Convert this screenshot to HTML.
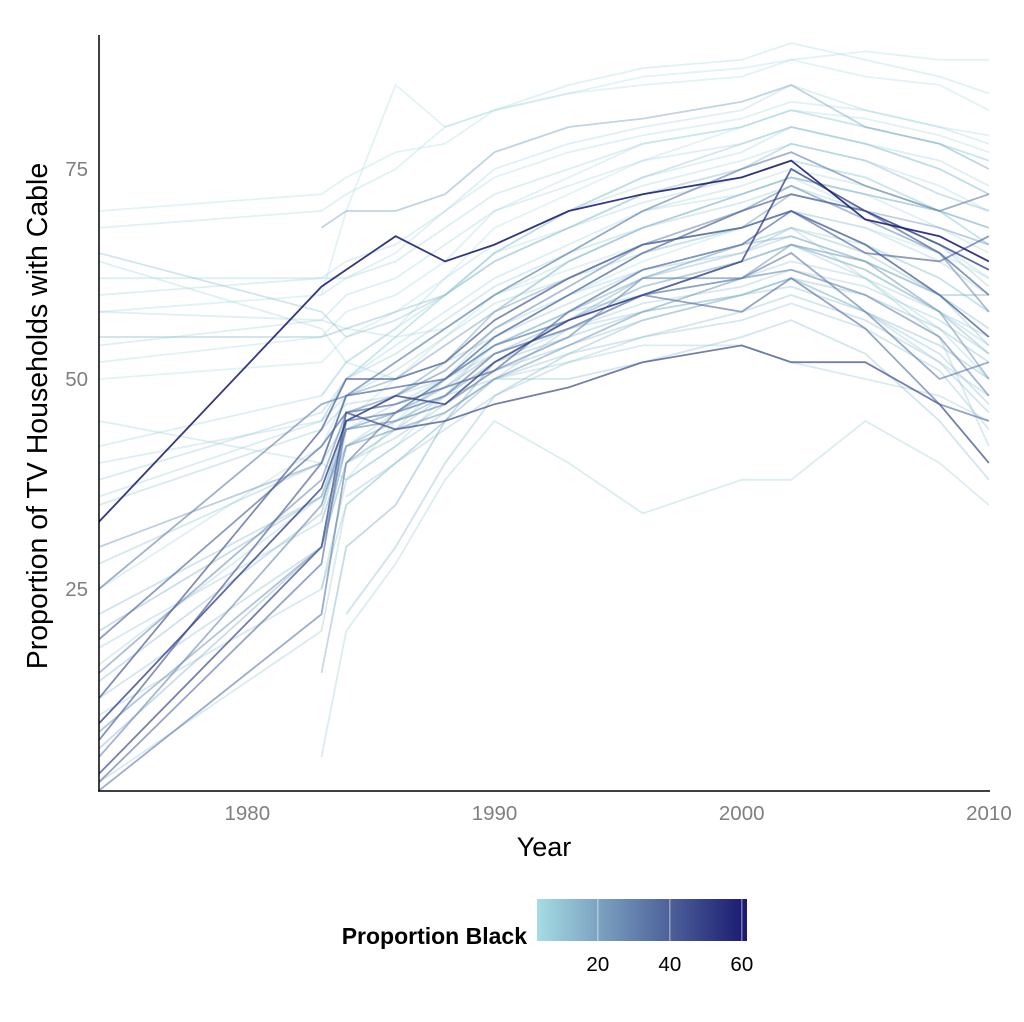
<!DOCTYPE html>
<html><head><meta charset="utf-8"><style>
body{margin:0;background:#fff;font-family:"Liberation Sans",Arial,sans-serif;}
svg{display:block}
</style></head><body>
<svg id="chart" width="1024" height="1022">
<defs><linearGradient id="grad" x1="0" x2="1"><stop offset="0" stop-color="#a5dce2"/><stop offset="1" stop-color="#191970"/></linearGradient></defs>
<g id="lines"></g>
<line x1="99" y1="35" x2="99" y2="791" stroke="#000" stroke-width="1.5"/>
<line x1="98" y1="791" x2="990" y2="791" stroke="#000" stroke-width="1.5"/>
<g id="xticks"></g>
<g id="yticks"></g>
<text x="544" y="856" font-size="27" text-anchor="middle" fill="#000">Year</text>
<text transform="translate(47,416) rotate(-90)" font-size="28.5" text-anchor="middle" fill="#000">Proportion of TV Households with Cable</text>
<g>
<text x="527" y="944" font-size="23" font-weight="bold" text-anchor="end">Proportion Black</text>
<rect x="537" y="899" width="210" height="42" fill="url(#grad)"/>
<g id="legticks"></g>
</g>
</svg>
<script>
const years=[1974,1983,1984,1986,1988,1990,1993,1996,2000,2002,2005,2008,2010];
const propBlack=[5,6,4,7,5,8,6,4,9,7,5,6,8,5,7,10,12,6,20,15,22,18,12,10,25,14,16,
4,5,6,7,8,9,10,11,12,13,5,6,7,8,9,10,11,12,14,16,
60,50,45,40,35,42,38,30,32,28,33];
const seriesValues=[
[68,70,72,75,80,82,85,87,88,90,88,86,84],
[60,62,64,66,70,75,78,80,82,85,82,80,78],
[50,52,55,58,62,68,72,76,80,82,80,78,76],
[40,45,50,55,60,65,70,74,77,80,78,76,73],
[null,null,38,45,50,55,60,64,68,70,68,65,62],
[null,5,20,28,38,45,40,34,38,38,45,40,35],
[58,57,56,55,56,60,65,70,72,74,72,70,68],
[null,60,70,85,80,82,84,86,87,88,86,85,82],
[2,20,35,40,45,50,52,54,54,52,50,48,45],
[45,40,38,42,48,55,60,65,68,70,66,60,55],
[null,35,45,50,55,60,63,66,68,70,66,62,58],
[25,42,48,52,56,60,64,68,72,74,72,68,65],
[16,36,44,46,49,54,58,62,66,68,62,56,50],
[null,null,50,55,60,65,68,72,74,76,74,70,68],
[62,62,62,64,68,72,75,78,80,82,80,78,76],
[35,44,47,48,50,54,58,60,64,66,62,55,42],
[null,null,40,44,48,50,50,52,55,57,53,45,38],
[64,56,52,50,52,58,64,68,72,74,70,66,62],
[null,68,70,70,72,77,80,81,83,85,80,78,75],
[55,55,56,58,60,64,68,72,75,78,76,72,70],
[30,40,48,50,54,58,62,66,68,72,70,68,66],
[null,15,30,35,45,52,57,62,66,67,64,60,60],
[65,58,55,57,60,65,70,74,78,80,78,75,72],
[10,25,35,40,45,50,56,60,62,64,62,58,55],
[8,30,42,44,46,50,54,58,62,66,64,58,50],
[null,null,22,30,40,48,53,57,60,62,58,54,50],
[20,36,45,48,52,58,64,68,72,74,72,70,68],
[70,72,74,77,78,82,84,85,86,88,89,88,88],
[52,55,58,60,64,70,74,78,80,82,81,79,77],
[null,48,52,56,62,66,70,73,76,78,76,73,70],
[42,48,52,56,60,64,68,71,74,76,74,70,66],
[null,30,40,44,50,56,60,63,66,68,66,62,58],
[38,46,50,53,57,61,65,68,71,73,70,66,61],
[null,null,44,47,50,53,56,58,60,62,58,52,48],
[28,40,45,48,52,55,59,63,65,67,64,60,54],
[null,25,38,42,46,50,53,55,58,60,57,52,46],
[22,36,42,45,48,52,55,58,60,62,60,56,52],
[58,60,62,65,70,74,77,79,81,83,82,80,79],
[54,57,60,62,66,70,73,76,78,80,78,75,72],
[null,45,50,54,58,62,66,70,73,75,73,70,66],
[36,45,48,51,55,59,62,65,68,70,68,64,60],
[null,33,42,46,50,54,57,61,64,66,63,58,54],
[18,33,42,45,48,52,56,59,61,63,61,57,53],
[null,null,36,40,44,48,52,55,57,59,56,51,44],
[12,30,40,43,47,51,54,57,60,61,58,53,47],
[14,34,44,46,50,54,58,62,65,68,65,60,56],
[6,30,44,46,49,53,57,61,64,66,63,58,53],
[33,61,63,67,64,66,70,72,74,76,69,67,64],
[9,37,45,48,47,52,57,60,64,75,70,66,63],
[3,30,46,44,45,47,49,52,54,52,52,47,40],
[7,40,48,49,50,55,60,65,70,72,70,65,60],
[2,28,45,46,48,53,56,60,58,62,56,47,45],
[12,44,50,50,52,57,62,66,68,70,66,60,55],
[19,42,46,47,49,51,58,63,66,70,65,64,67],
[5,35,44,45,47,51,55,62,62,63,60,55,48],
[25,47,48,52,56,60,65,70,75,77,73,70,72],
[15,38,46,48,51,56,61,66,70,73,69,65,58],
[1,22,40,46,50,54,57,60,62,65,58,50,52]];
const xTicks=[1980,1990,2000,2010];
const yTicks=[25,50,75];
const legTicks=[20,40,60];
const NS="http://www.w3.org/2000/svg";
const xs=y=>99+(y-1974)*24.72;
const ys=v=>379-(v-50)*8.4;
const ls=v=>537+(v-3.1)*3.6;
function col(b){const t=Math.max(0,Math.min(1,(b-3.1)/58.3));
const a=[165,220,226],c=[25,25,112];
return `rgb(${a.map((v,i)=>Math.round(v+(c[i]-v)*t)).join(',')})`;}
const order=propBlack.map((b,i)=>i).sort((a,b)=>propBlack[a]-propBlack[b]);
const g=document.getElementById('lines');
order.forEach(i=>{
  let d='';seriesValues[i].forEach((v,j)=>{if(v==null)return;d+=(d?'L':'M')+xs(years[j]).toFixed(1)+','+ys(v).toFixed(1);});
  const p=document.createElementNS(NS,'path');
  p.setAttribute('d',d);p.setAttribute('fill','none');
  const t=(propBlack[i]-3.1)/58.3;
  p.setAttribute('stroke',col(propBlack[i]));p.setAttribute('stroke-width','1.8');
  p.setAttribute('stroke-opacity',(0.3+0.6*t).toFixed(2));
  
  
  g.appendChild(p);
});
const xg=document.getElementById('xticks');
xTicks.forEach(v=>{const t=document.createElementNS(NS,'text');
t.setAttribute('x',xs(v));t.setAttribute('y',820);t.setAttribute('font-size','20.5');t.setAttribute('fill','#7f7f7f');t.setAttribute('text-anchor','middle');t.textContent=v;


xg.appendChild(t);});
const yg=document.getElementById('yticks');
yTicks.forEach(v=>{const t=document.createElementNS(NS,'text');
t.setAttribute('x',88);t.setAttribute('y',ys(v)+7);t.setAttribute('font-size','20.5');t.setAttribute('fill','#7f7f7f');t.setAttribute('text-anchor','end');t.textContent=v;


yg.appendChild(t);});
const lg=document.getElementById('legticks');
legTicks.forEach(v=>{
const l=document.createElementNS(NS,'line');
l.setAttribute('x1',ls(v));l.setAttribute('x2',ls(v));l.setAttribute('y1',899);l.setAttribute('y2',941);l.setAttribute('stroke','#fff');l.setAttribute('stroke-opacity','0.6');


lg.appendChild(l);
const t=document.createElementNS(NS,'text');
t.setAttribute('x',ls(v));t.setAttribute('y',971);t.setAttribute('font-size','20.5');t.setAttribute('text-anchor','middle');t.textContent=v;


lg.appendChild(t);});
</script>
</body></html>
